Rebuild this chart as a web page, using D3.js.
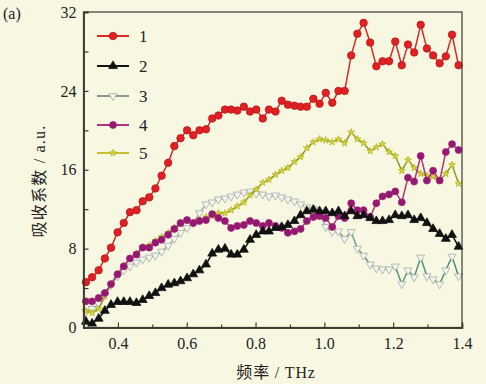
<!DOCTYPE html>
<html>
<head>
<meta charset="utf-8">
<script src="https://cdn.jsdelivr.net/npm/d3@7"></script>
<style>
  html, body { margin: 0; padding: 0; background: #f8f8e2; }
  svg { display: block; }
</style>
</head>
<body>
<div id="chart"></div>
<script>
// Frequency grid (THz) shared by every curve
const freq = [
  0.307, 0.325, 0.344, 0.362, 0.380, 0.399, 0.417, 0.435, 0.454, 0.472,
  0.491, 0.509, 0.527, 0.546, 0.564, 0.582, 0.601, 0.619, 0.637, 0.656,
  0.674, 0.692, 0.711, 0.729, 0.747, 0.766, 0.784, 0.802, 0.821, 0.839,
  0.858, 0.876, 0.894, 0.913, 0.931, 0.949, 0.968, 0.986, 1.004, 1.023,
  1.041, 1.059, 1.078, 1.096, 1.114, 1.133, 1.151, 1.169, 1.188, 1.206,
  1.225, 1.243, 1.261, 1.280, 1.298, 1.316, 1.335, 1.353, 1.371, 1.390
];

// Absorption coefficient (a.u.)
const series1 = [
  4.6, 5.1, 5.8, 7.0, 8.1, 9.65, 10.6, 11.7, 11.9, 12.8,
  13.2, 14.1, 15.4, 16.7, 18.4, 19.2, 20.0, 19.5, 20.0, 20.1,
  21.2, 21.5, 22.1, 22.1, 22.0, 22.4, 21.9, 22.1, 21.2, 22.1,
  21.9, 23.0, 22.6, 22.5, 22.4, 22.4, 23.2, 22.7, 23.8, 22.8,
  24.0, 24.0, 27.6, 29.8, 30.9, 28.9, 26.5, 27.0, 27.0, 29.0,
  26.6, 28.7, 27.9, 30.7, 28.3, 27.6, 26.8, 27.5, 29.7, 26.6
];
const series2 = [
  0.6, 0.4, 0.9, 1.7, 2.3, 2.6, 2.6, 2.6, 2.5, 2.8,
  3.2, 3.5, 4.0, 4.35, 4.5, 4.7, 5.0, 5.4, 5.8, 6.4,
  7.5, 7.9, 8.0, 7.4, 7.4, 7.9, 8.9, 9.4, 9.75, 9.75,
  10.1, 10.2, 10.4, 10.8, 11.4, 11.8, 11.95, 11.8, 11.8, 11.6,
  11.8, 11.3, 11.8, 11.3, 11.4, 11.1, 10.8, 10.8, 10.9, 11.4,
  11.3, 11.4, 10.9, 11.1, 10.6, 10.0, 9.5, 9.0, 9.4, 8.2
];
const series3 = [
  1.6, 1.9, 2.4, 3.3, 4.3, 5.2, 5.8, 6.2, 6.6, 6.9,
  7.1, 7.3, 7.7, 8.3, 9.0, 9.6, 10.1, 10.6, 11.6, 12.5,
  12.7, 13.0, 13.1, 13.3, 13.5, 13.7, 13.8, 13.6, 13.5, 13.3,
  13.4, 13.2, 13.0, 12.8, 12.5, 12.2, 12.0, 11.6, 10.2, 9.7,
  9.75, 9.0, 9.7, 8.0, 7.3, 6.4, 6.0, 5.9, 5.9, 6.2,
  4.4, 5.8, 5.1, 7.1, 5.2, 4.9, 4.4, 5.8, 7.2, 5.2
];
const series4 = [
  2.65, 2.65, 3.0, 3.5, 4.4, 5.4, 6.2, 7.0, 7.4, 8.1,
  8.1, 8.6, 8.9, 9.4, 10.0, 10.6, 10.9, 10.6, 10.8, 10.9,
  11.5, 11.1, 10.8, 10.1, 10.3, 10.4, 10.8, 10.6, 10.3, 10.6,
  10.3, 10.1, 9.6, 9.75, 10.0, 10.8, 11.2, 11.3, 11.1, 10.2,
  11.3, 11.1, 12.6, 11.9, 11.9, 11.2, 12.6, 13.3, 13.5, 13.8,
  12.7, 15.2, 14.8, 17.4, 14.9, 15.9, 14.9, 17.8, 18.6, 18.0
];
const series5 = [
  1.65, 1.5, 1.9, 3.2, 4.4, 5.4, 6.3, 7.0, 7.5, 8.2,
  8.3, 8.8, 9.2, 9.6, 10.1, 10.5, 10.8, 10.6, 10.9, 11.2,
  11.3, 11.6, 11.6, 11.9, 12.3, 12.7, 13.4, 14.0, 14.7, 15.0,
  15.5, 15.9, 16.2, 16.8, 17.3, 18.2, 18.8, 19.1, 19.0, 18.8,
  19.1, 18.7, 19.8, 19.1, 18.7, 17.9, 18.3, 18.6, 17.8, 17.4,
  15.9, 17.0, 16.2, 15.6, 15.4, 15.3, 14.9, 15.6, 16.5, 14.6
];

const legendLabels = ["1", "2", "3", "4", "5"];
const xTicks = [0.4, 0.6, 0.8, 1.0, 1.2, 1.4];
const xMinorTicks = [0.5, 0.7, 0.9, 1.1, 1.3];
const yTicks = [0, 8, 16, 24, 32];
const yMinorTicks = [4, 12, 20, 28];

const W = 486, H = 384;
const serif = "'Liberation Serif', 'DejaVu Serif', serif";
const cjk = "'Liberation Serif', 'Noto Sans CJK SC', serif";

const x = d3.scaleLinear().domain([0.3, 1.4]).range([83.5, 462]);
const y = d3.scaleLinear().domain([0, 32]).range([327.5, 12]);

const svg = d3.select("#chart").append("svg")
  .attr("width", W).attr("height", H);

svg.append("rect").attr("width", W).attr("height", H).attr("fill", "#f8f8e2");

// series 3 line fades from grey to teal towards high frequency
const defs = svg.append("defs");
const grad = defs.append("linearGradient")
  .attr("id", "teal").attr("gradientUnits", "userSpaceOnUse")
  .attr("x1", x(0.3)).attr("x2", x(1.4)).attr("y1", 0).attr("y2", 0);
grad.append("stop").attr("offset", "0%").attr("stop-color", "#a8aea6");
grad.append("stop").attr("offset", "55%").attr("stop-color", "#a0aaa2");
grad.append("stop").attr("offset", "75%").attr("stop-color", "#5f9c88");
grad.append("stop").attr("offset", "100%").attr("stop-color", "#3f8c76");

const styles = [
  { data: series1, line: "#d8282a", fill: "#e21f22", stroke: "#b81a1a", sym: d3.symbolCircle, size: 44 },
  { data: series2, line: "#141414", fill: "#111", stroke: "#111", sym: d3.symbolTriangle, size: 34 },
  { data: series3, line: "url(#teal)", fill: "#f4f6ee", stroke: "#a5aca8", sym: d3.symbolTriangle, size: 28, flip: true, legendLine: "#8e9891" },
  { data: series4, line: "#b2337f", fill: "#93186f", stroke: "#a4237a", sym: d3.symbolCircle, size: 38 },
  { data: series5, line: "#8d9a1c", fill: "#d6d23a", stroke: "#b8b82a", sym: d3.symbolStar, size: 15, legendLine: "#c4c030" }
];
// draw order: grey, yellow, magenta, black, red
const drawOrder = [2, 4, 3, 1, 0];

const line = d3.line().x((d, i) => x(freq[i])).y(d => y(d));

drawOrder.forEach(k => {
  const s = styles[k];
  const g = svg.append("g");
  g.append("path")
    .attr("d", line(s.data))
    .attr("fill", "none")
    .attr("stroke", s.line)
    .attr("stroke-width", 1.5);
  const sym = d3.symbol().type(s.sym).size(s.size);
  g.selectAll("path.m")
    .data(s.data)
    .enter().append("path")
    .attr("class", "m")
    .attr("d", sym)
    .attr("transform", (d, i) => `translate(${x(freq[i])},${y(d)})` + (s.flip ? " rotate(180)" : ""))
    .attr("fill", s.fill)
    .attr("stroke", s.stroke)
    .attr("stroke-width", 0.8);
});

// frame
svg.append("rect")
  .attr("x", x(0.3)).attr("y", y(32))
  .attr("width", x(1.4) - x(0.3)).attr("height", y(0) - y(32))
  .attr("fill", "none").attr("stroke", "#3a3a32").attr("stroke-width", 1.2);

// axes, ticks pointing inward
svg.append("g").attr("transform", `translate(0,${y(0)})`)
  .call(d3.axisBottom(x).tickValues(xTicks).tickSize(-5).tickPadding(10).tickFormat(d3.format(".1f")));
svg.append("g").attr("transform", `translate(0,${y(0)})`)
  .call(d3.axisBottom(x).tickValues(xMinorTicks).tickSize(-3).tickFormat(""));
svg.append("g").attr("transform", `translate(${x(0.3)},0)`)
  .call(d3.axisLeft(y).tickValues(yTicks).tickSize(-5).tickPadding(7));
svg.append("g").attr("transform", `translate(${x(0.3)},0)`)
  .call(d3.axisLeft(y).tickValues(yMinorTicks).tickSize(-5).tickFormat(""));

svg.selectAll(".domain").attr("stroke", "#3a3a32").attr("stroke-width", 1.4);
svg.selectAll(".tick line").attr("stroke", "#3a3a32").attr("stroke-width", 1.2);
svg.selectAll(".tick text")
  .attr("font-family", serif).attr("font-size", 16).attr("fill", "#222");

// axis titles
svg.append("text")
  .attr("x", 276).attr("y", 378)
  .attr("text-anchor", "middle")
  .attr("font-family", cjk).attr("font-size", 16).attr("letter-spacing", 0.8).attr("fill", "#222")
  .text("频率 / THz");

svg.append("text")
  .attr("transform", "translate(45,181) rotate(-90)")
  .attr("text-anchor", "middle")
  .attr("font-family", cjk).attr("font-size", 16).attr("letter-spacing", 1.2).attr("fill", "#222")
  .text("吸收系数 / a.u.");

svg.append("text")
  .attr("x", 3).attr("y", 19)
  .attr("font-family", serif).attr("font-size", 16).attr("fill", "#222")
  .text("(a)");

// legend
const legendY = [36, 66, 96, 125, 153];
styles.forEach((s, i) => {
  const g = svg.append("g").attr("transform", `translate(0,${legendY[i]})`);
  g.append("line")
    .attr("x1", 97).attr("x2", 129)
    .attr("stroke", s.legendLine || s.line).attr("stroke-width", 2);
  g.append("path")
    .attr("d", d3.symbol().type(s.sym).size(s.size)())
    .attr("transform", `translate(113,0)` + (s.flip ? " rotate(180)" : ""))
    .attr("fill", s.fill).attr("stroke", s.stroke).attr("stroke-width", 0.8);
  g.append("text")
    .attr("x", 139).attr("dy", "0.35em")
    .attr("font-family", serif).attr("font-size", 17).attr("fill", "#222")
    .text(legendLabels[i]);
});
</script>
</body>
</html>
